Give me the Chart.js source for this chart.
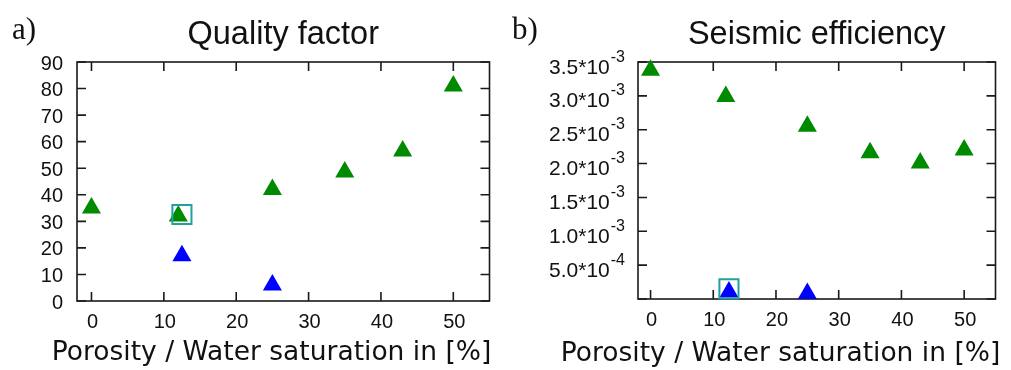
<!DOCTYPE html>
<html>
<head>
<meta charset="utf-8">
<script src="https://cdn.jsdelivr.net/npm/chart.js@4.4.1/dist/chart.umd.min.js"></script>
<style>
  html, body { margin: 0; padding: 0; background: #fff; }
  #wrap { position: relative; width: 1011px; height: 370px; overflow: hidden; background: #fff; }
  #qa { position: absolute; left: 0; top: 0; }
  #qb { position: absolute; left: 505px; top: 0; }
</style>
</head>
<body>
<div id="wrap">
  <canvas id="qa" width="505" height="370"></canvas>
  <canvas id="qb" width="506" height="370"></canvas>
</div>
<script>
// ---- data ---------------------------------------------------------------
// porosity / water saturation in percent
const porosityDry = [0, 12, 25, 35, 43, 50];
const porosityWet = [12.5, 25];
const porosityRef = [12.5];

// a) quality factor
const qualityDry = [35, 32, 42, 48.6, 56.5, 81];
const qualityWet = [17, 6];
const qualityRef = [32.6];

// b) seismic efficiency
const efficiencyDry = [3.38e-3, 2.99e-3, 2.55e-3, 2.16e-3, 2.01e-3, 2.2e-3];
const efficiencyWet = [1.04e-4, 8.1e-5];
const efficiencyRef = [1.49e-4];

// axis ticks
const xTicks = [0, 10, 20, 30, 40, 50];
const qualityTicks = [0, 10, 20, 30, 40, 50, 60, 70, 80, 90];
const qualityTickLabels = ['0', '10', '20', '30', '40', '50', '60', '70', '80', '90'];
const efficiencyTicks = [0, 5e-4, 1e-3, 1.5e-3, 2e-3, 2.5e-3, 3e-3, 3.5e-3];
const efficiencyTickLabels = ['', '5.0*10^-4', '1.0*10^-3', '1.5*10^-3', '2.0*10^-3',
                              '2.5*10^-3', '3.0*10^-3', '3.5*10^-3'];

const GREEN = '#008a00';
const BLUE = '#0000ff';
const TEAL = '#22a0a0';
const INK = '#1a1a1a';

const pts = (xs, ys) => xs.map((x, i) => ({ x: x, y: ys[i] }));

// Box frame with inward ticks on all four sides, tick labels and captions
const framePlugin = {
  id: 'frame',
  beforeDatasetsDraw(chart, args, o) {
    const { ctx, chartArea: a } = chart;
    const xs = chart.scales.x, ys = chart.scales.y;
    const T = 9;
    ctx.save();
    ctx.strokeStyle = INK;
    ctx.lineWidth = 1.6;
    ctx.strokeRect(a.left, a.top, a.right - a.left, a.bottom - a.top);
    ctx.beginPath();
    xs.ticks.forEach(t => {
      const px = xs.getPixelForValue(t.value);
      ctx.moveTo(px, a.bottom); ctx.lineTo(px, a.bottom - T);
      ctx.moveTo(px, a.top); ctx.lineTo(px, a.top + T);
    });
    ys.ticks.forEach(t => {
      const py = ys.getPixelForValue(t.value);
      ctx.moveTo(a.left, py); ctx.lineTo(a.left + T, py);
      ctx.moveTo(a.right, py); ctx.lineTo(a.right - T, py);
    });
    ctx.stroke();
    ctx.restore();
  },
  afterDraw(chart, args, o) {
    const { ctx, chartArea: a } = chart;
    const xs = chart.scales.x, ys = chart.scales.y;
    ctx.save();
    ctx.fillStyle = '#111';

    // x tick labels
    ctx.font = '20px "Liberation Sans", Arial, sans-serif';
    ctx.textAlign = 'center';
    ctx.textBaseline = 'alphabetic';
    xs.ticks.forEach((t, i) => {
      ctx.fillText(String(xTicks[i]), xs.getPixelForValue(t.value) + 1, a.bottom + 27);
    });

    // y tick labels, with optional superscript exponent after '^'
    ys.ticks.forEach((t, i) => {
      const label = o.yLabels[i];
      if (!label) return;
      const py = ys.getPixelForValue(t.value);
      const parts = label.split('^');
      ctx.textAlign = 'left';
      if (parts.length === 1) {
        ctx.font = '20px "Liberation Sans", Arial, sans-serif';
        const w = ctx.measureText(parts[0]).width;
        ctx.fillText(parts[0], o.yLabelRight - w, py + 7.5);
      } else {
        ctx.font = '16px "Liberation Sans", Arial, sans-serif';
        const ws = ctx.measureText(parts[1]).width;
        ctx.font = '21px "Liberation Sans", Arial, sans-serif';
        const wm = ctx.measureText(parts[0]).width;
        const x0 = o.yLabelRight - ws - wm - 1;
        ctx.fillText(parts[0], x0, py + 11.5);
        ctx.font = '16px "Liberation Sans", Arial, sans-serif';
        ctx.fillText(parts[1], x0 + wm + 1, py - 0.5);
      }
    });

    // panel letter
    ctx.textAlign = 'left';
    ctx.font = '31px "Liberation Serif", "Times New Roman", serif';
    ctx.fillText(o.panel, o.panelX, 39);

    // title
    ctx.textAlign = 'center';
    ctx.font = '32.5px "Liberation Sans", Arial, sans-serif';
    ctx.fillText(o.title, (a.left + a.right) / 2, 44);

    // x axis title
    ctx.font = '26.5px "DejaVu Sans", Verdana, sans-serif';
    ctx.fillText(o.xTitle, o.xTitleX, o.xTitleY);
    ctx.restore();
  }
};

function makeChart(id, c) {
  const tickSetter = vals => s => { s.ticks = vals.map(v => ({ value: v })); };
  return new Chart(document.getElementById(id), {
    type: 'scatter',
    data: {
      datasets: [
        { data: pts(porosityRef, c.ref), pointStyle: 'rect', pointRadius: 13.5,
          backgroundColor: 'rgba(0,0,0,0)', borderColor: TEAL, borderWidth: 2, clip: false },
        { data: pts(porosityDry, c.dry), pointStyle: 'triangle', pointRadius: 11,
          backgroundColor: GREEN, borderColor: GREEN, borderWidth: 0, clip: false },
        { data: pts(porosityWet, c.wet), pointStyle: 'triangle', pointRadius: 11,
          backgroundColor: BLUE, borderColor: BLUE, borderWidth: 0, clip: false }
      ]
    },
    options: {
      responsive: false,
      animation: false,
      events: [],
      layout: { padding: { top: 62, left: 0, right: c.padRight, bottom: 0 } },
      plugins: {
        legend: { display: false },
        tooltip: { enabled: false },
        frame: {
          panel: c.panel, panelX: c.panelX, title: c.title,
          xTitle: 'Porosity / Water saturation in [%]', xTitleX: c.xTitleX, xTitleY: c.xTitleY,
          yLabels: c.yLabels, yLabelRight: c.yLabelRight
        }
      },
      scales: {
        x: {
          type: 'linear', min: -2, max: 55,
          afterBuildTicks: tickSetter(xTicks),
          afterFit: s => { s.height = c.xAxisHeight; },
          ticks: { display: false }, grid: { display: false }, border: { display: false }
        },
        y: {
          type: 'linear', min: c.ymin, max: c.ymax,
          afterBuildTicks: tickSetter(c.yTicks),
          afterFit: s => { s.width = c.yAxisWidth; },
          ticks: { display: false }, grid: { display: false }, border: { display: false }
        }
      }
    },
    plugins: [framePlugin]
  });
}

makeChart('qa', {
  panel: 'a)', panelX: 12, title: 'Quality factor',
  dry: qualityDry, wet: qualityWet, ref: qualityRef,
  ymin: 0, ymax: 90, yTicks: qualityTicks, yLabels: qualityTickLabels,
  yAxisWidth: 77, xAxisHeight: 69, padRight: 12, yLabelRight: 63,
  xTitleX: 271.5, xTitleY: 360
});

makeChart('qb', {
  panel: 'b)', panelX: 7, title: 'Seismic efficiency',
  dry: efficiencyDry, wet: efficiencyWet, ref: efficiencyRef,
  ymin: 0, ymax: 3.5e-3, yTicks: efficiencyTicks, yLabels: efficiencyTickLabels,
  yAxisWidth: 133, xAxisHeight: 71, padRight: 6, yLabelRight: 120,
  xTitleX: 275.5, xTitleY: 361
});
</script>
</body>
</html>
